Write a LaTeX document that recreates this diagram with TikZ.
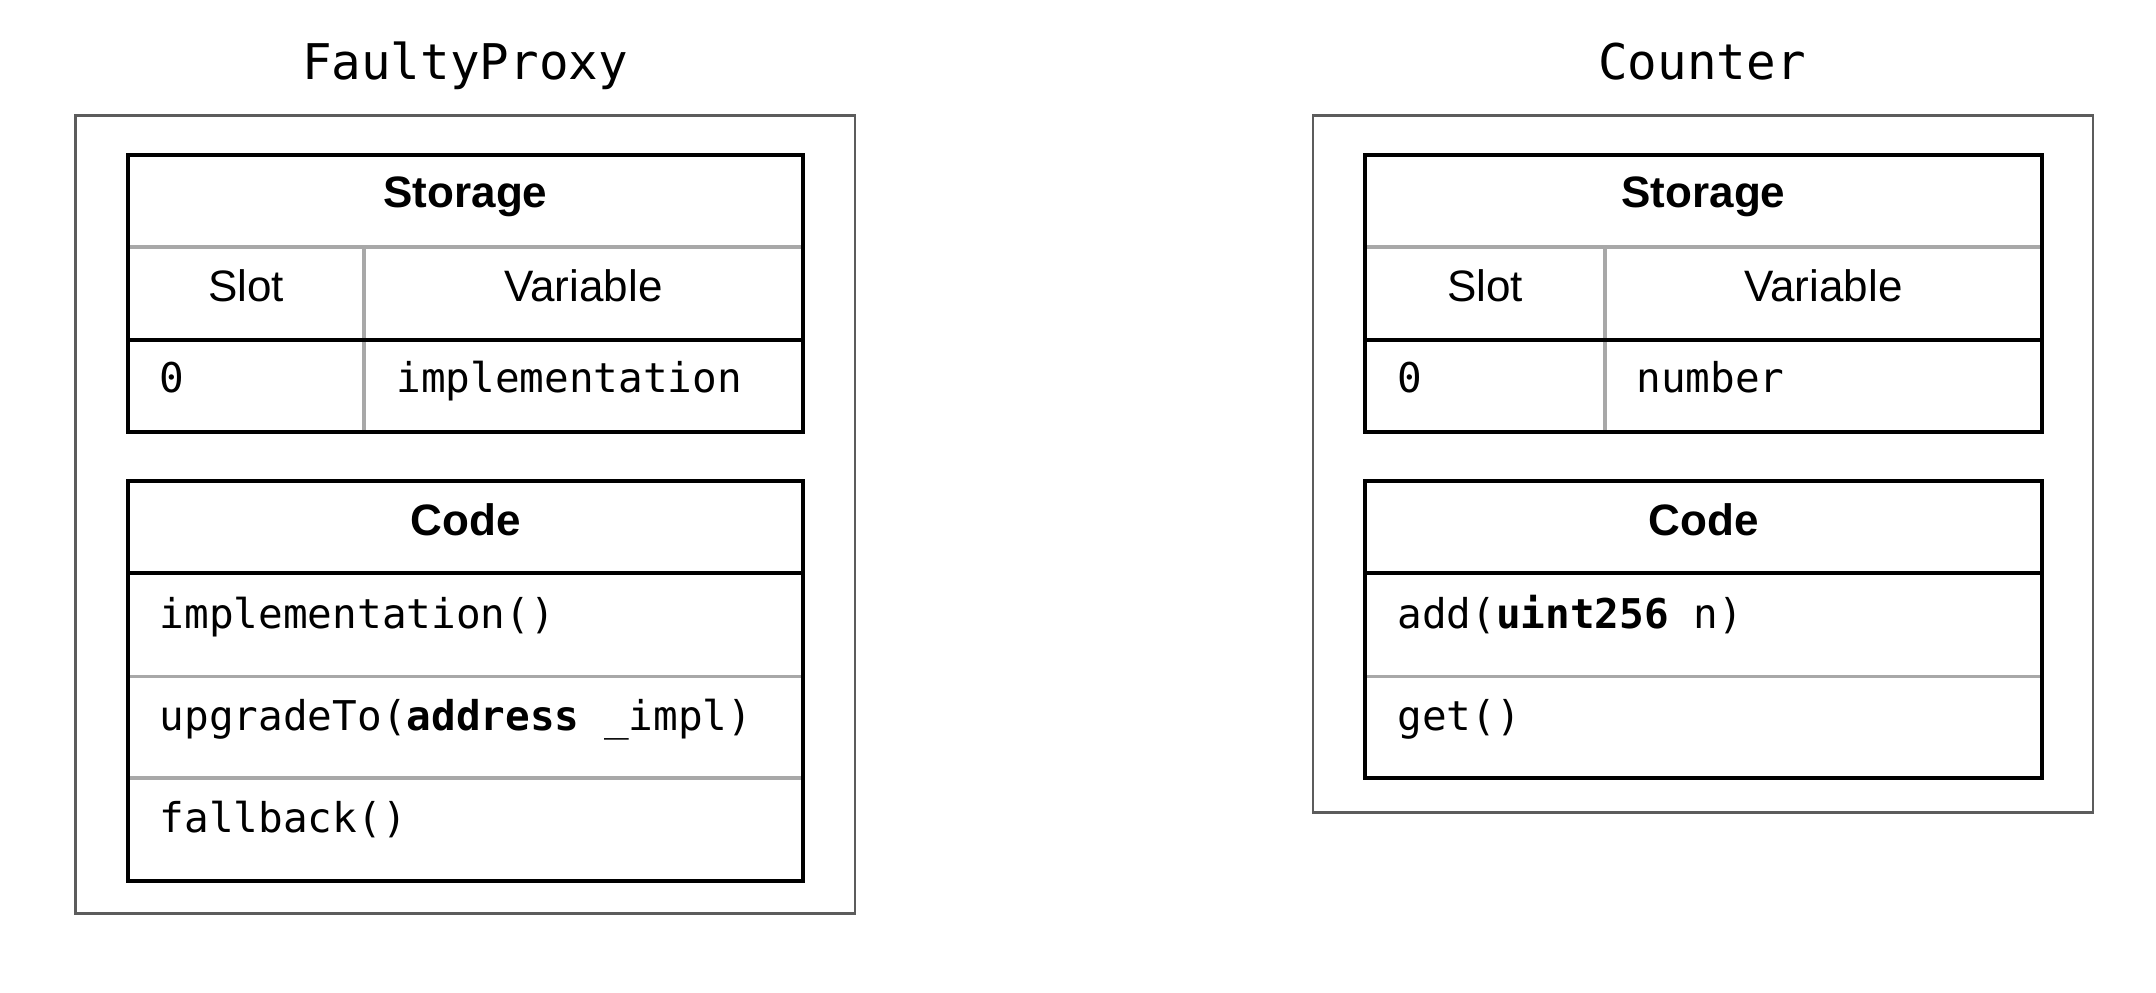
\documentclass[tikz,border=0pt]{standalone}
\usepackage{fontspec}
\setmainfont{Liberation Sans}
\newfontfamily\codefont{DejaVu Sans Mono}

\definecolor{boxgray}{gray}{0.36}
\definecolor{rulegray}{gray}{0.66}

\tikzset{
  outerbox/.style={draw=boxgray,line width=1.4pt},
  tablebox/.style={draw=black,line width=2pt},
  innerrule/.style={draw=rulegray,line width=1.7pt},
  contracttitle/.style={font=\codefont\fontsize{24.6}{28}\selectfont,anchor=base},
  tablehead/.style={font=\bfseries\fontsize{22}{26}\selectfont,anchor=base},
  colhead/.style={font=\fontsize{22}{26}\selectfont,anchor=base},
  codecell/.style={font=\codefont\fontsize{20.5}{24}\selectfont,anchor=base west,inner sep=0pt},
}

\begin{document}
\begin{tikzpicture}[x=0.5pt,y=-0.5pt]
  \useasboundingbox (0,0) rectangle (2156,992);

  % FaultyProxy
  \node[contracttitle] (proxytitle) at (465,79) {FaultyProxy};
  \draw[outerbox] (75.5,115.5) rectangle (855,913.5);
  \draw[innerrule] (128,247) -- (803,247);
  \draw[innerrule] (364,247) -- (364,432);
  \draw[tablebox] (128,340) -- (803,340);
  \draw[tablebox] (128,154.5) rectangle (803,432);
  \foreach \y in {676.5,778}
    \draw[innerrule] (128,\y) -- (803,\y);
  \draw[tablebox] (128,573) -- (803,573);
  \draw[tablebox] (128,481) rectangle (803,881);
  \node[tablehead] (proxystorage) at (465.5,207) {Storage};
  \node[colhead] (proxyslot) at (246,301) {Slot};
  \node[colhead] (proxyvar) at (583.5,301) {Variable};
  \node[codecell] (proxyslotzero) at (159.5,392) {0};
  \node[codecell] (proxyimpl) at (396,392) {implementation};
  \node[tablehead] (proxycode) at (465.5,535) {Code};
  \node[codecell] (proxyfnimpl) at (159.5,628) {implementation()};
  \node[codecell] (proxyfnupgrade) at (159.5,730) {upgradeTo(\textbf{address} \_impl)};
  \node[codecell] (proxyfnfallback) at (159.5,832) {fallback()};

  % Counter
  \node[contracttitle] (countertitle) at (1702,79) {Counter};
  \draw[outerbox] (1313,115.5) rectangle (2093,812.6);
  \draw[innerrule] (1365,247) -- (2042,247);
  \draw[innerrule] (1605,247) -- (1605,432);
  \draw[tablebox] (1365,340) -- (2042,340);
  \draw[tablebox] (1365,154.5) rectangle (2042,432);
  \draw[innerrule] (1365,676.5) -- (2042,676.5);
  \draw[tablebox] (1365,573) -- (2042,573);
  \draw[tablebox] (1365,481) rectangle (2042,778);
  \node[tablehead] (counterstorage) at (1703.5,207) {Storage};
  \node[colhead] (counterslot) at (1485,301) {Slot};
  \node[colhead] (countervar) at (1823.5,301) {Variable};
  \node[codecell] (counterslotzero) at (1397,392) {0};
  \node[codecell] (counternumber) at (1636,392) {number};
  \node[tablehead] (countercode) at (1703.5,535) {Code};
  \node[codecell] (counterfnadd) at (1397,628) {add(\textbf{uint256} n)};
  \node[codecell] (counterfnget) at (1397,730) {get()};
\end{tikzpicture}
\end{document}
